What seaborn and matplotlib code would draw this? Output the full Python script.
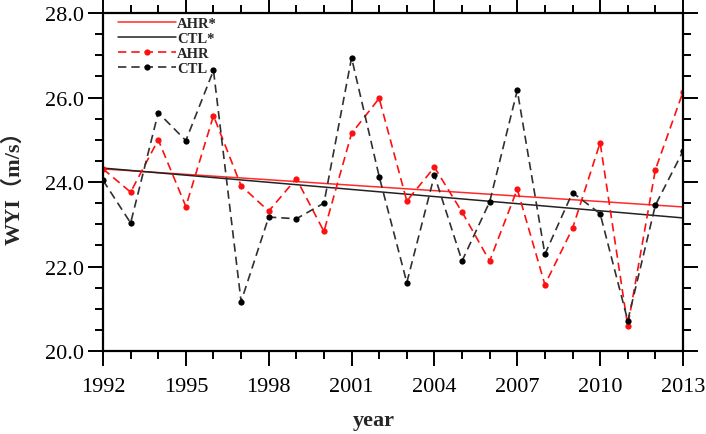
import warnings
warnings.filterwarnings('ignore')

import matplotlib
matplotlib.use('Agg')

import numpy as np
import pandas as pd
import matplotlib.pyplot as plt
from matplotlib.ticker import MultipleLocator
import seaborn as sns

# Data
years = list(range(1992, 2014))
ahr = [24.31, 23.76, 25.00, 23.42, 25.57, 23.91, 23.31, 24.08, 22.83, 25.15, 25.98,
       23.55, 24.35, 23.29, 22.13, 23.83, 21.57, 22.90, 24.93, 20.59, 24.29, 26.13]
ctl = [24.04, 23.03, 25.64, 24.98, 26.64, 21.17, 23.17, 23.13, 23.50, 26.94, 24.13,
       21.62, 24.16, 22.13, 23.53, 26.17, 22.29, 23.75, 23.25, 20.72, 23.45, 24.73]
trend_years = [1992, 2013]
ahr_trend = [24.31, 23.41]
ctl_trend = [24.33, 23.15]

xtick_years = [1992, 1995, 1998, 2001, 2004, 2007, 2010, 2013]
ytick_vals = [20.0, 22.0, 24.0, 26.0, 28.0]

df = pd.DataFrame({'year': years, 'AHR': ahr, 'CTL': ctl})
trend = pd.DataFrame({'year': trend_years, 'AHR*': ahr_trend, 'CTL*': ctl_trend})

sns.set_style('ticks')
plt.rcParams['font.family'] = ['Liberation Serif', 'Noto Sans CJK SC']

fig = plt.figure(figsize=(7.06, 4.35), dpi=100)
ax = fig.add_axes([0.1459, 0.1908, 0.8215, 0.777])

sns.lineplot(data=trend, x='year', y='AHR*', color='#ff2a2a', lw=1.1, ax=ax, label='AHR*')
sns.lineplot(data=trend, x='year', y='CTL*', color='#222222', lw=1.1, ax=ax, label='CTL*')
sns.lineplot(data=df, x='year', y='AHR', color='#ff1010', lw=1.2, linestyle=(0, (5, 3)),
             marker='o', markersize=4.5, markeredgewidth=0, ax=ax, label='AHR')
sns.lineplot(data=df, x='year', y='CTL', color='#303030', lw=1.2, linestyle=(0, (5, 3)),
             marker='o', markersize=4.5, markeredgewidth=0, markerfacecolor='black',
             ax=ax, label='CTL')

ax.set_xlim(1992, 2013)
ax.set_ylim(20, 28)
ax.set_xticks(xtick_years)
ax.set_yticks(ytick_vals)
ax.set_yticklabels([f'{v:.1f}' for v in ytick_vals])
ax.xaxis.set_minor_locator(MultipleLocator(1))
ax.yaxis.set_minor_locator(MultipleLocator(0.5))

ax.tick_params(which='both', direction='out', top=True, right=True, width=1.4,
               labelsize=16, colors='black')
ax.tick_params(which='major', length=11)
ax.tick_params(which='minor', length=6)
ax.tick_params(axis='x', pad=8)
ax.tick_params(axis='y', pad=3)
for s in ax.spines.values():
    s.set_linewidth(1.6)
    s.set_color('black')

ax.set_xlabel('year', fontsize=16, fontweight='bold')
ax.xaxis.set_label_coords(0.467, -0.175)
ax.set_ylabel('WYI（m/s）', fontsize=16, fontweight='bold')
ax.yaxis.set_label_coords(-0.136, 0.5)

ax.legend(loc='upper left', bbox_to_anchor=(0.01, 1.015), frameon=False,
          prop={'size': 10.5, 'weight': 'bold'}, handlelength=4.0,
          handletextpad=0.1, labelspacing=0.12, borderaxespad=0.2)

fig.savefig('out.png', dpi=100)
plt.close(fig)
